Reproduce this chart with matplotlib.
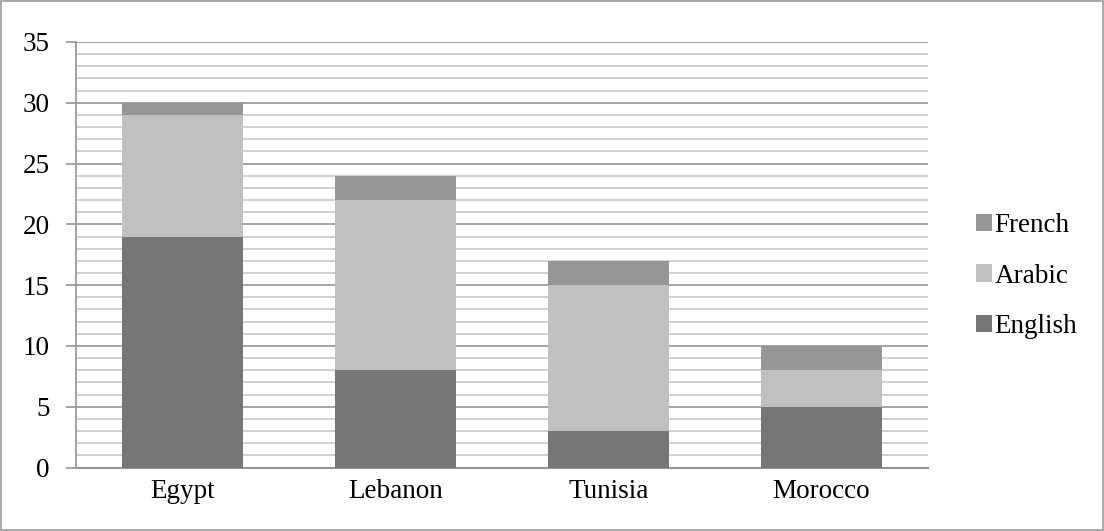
import numpy as np
import matplotlib.pyplot as plt
from matplotlib.ticker import MultipleLocator
from matplotlib.patches import Rectangle

countries = ["Egypt", "Lebanon", "Tunisia", "Morocco"]
english = [19, 8, 3, 5]
arabic = [10, 14, 12, 3]
french = [1, 2, 2, 2]

COL_EN = "#767676"
COL_AR = "#c0c0c0"
COL_FR = "#969696"

plt.rcParams['font.family'] = ['Liberation Serif', 'DejaVu Serif']

fig = plt.figure(figsize=(11.04, 5.31), dpi=100)
ax = fig.add_axes([76 / 1104, 1 - 467.5 / 531, 852 / 1104, 425.5 / 531])

x = np.arange(len(countries))
w = 0.57
en = np.array(english)
ar = np.array(arabic)
fr = np.array(french)
b_en = ax.bar(x, en, w, color=COL_EN, label="English", zorder=3)
b_ar = ax.bar(x, ar, w, bottom=en, color=COL_AR, label="Arabic", zorder=3)
b_fr = ax.bar(x, fr, w, bottom=en + ar, color=COL_FR, label="French", zorder=3)

ax.set_xlim(-0.5, len(countries) - 0.5)
ax.set_ylim(0, 35)
ax.yaxis.set_major_locator(MultipleLocator(5))
ax.yaxis.set_minor_locator(MultipleLocator(1))
ax.grid(which='major', axis='y', color='#959595', linewidth=1.2, zorder=1)
ax.grid(which='minor', axis='y', color='#c8c8c8', linewidth=1.2, zorder=1)

ax.set_xticks(x)
ax.set_xticklabels(countries)
ax.tick_params(axis='x', length=0, pad=8, labelsize=19.5)
ax.tick_params(axis='y', which='major', length=7, color='#959595', width=1.2,
               pad=12, labelsize=19.5)
ax.tick_params(axis='y', which='minor', length=0)

for side in ('top', 'right'):
    ax.spines[side].set_visible(False)
ax.spines['left'].set_color('#959595')
ax.spines['left'].set_linewidth(1.2)
ax.spines['bottom'].set_color('#959595')
ax.spines['bottom'].set_linewidth(1.5)

leg = ax.legend(handles=[b_fr, b_ar, b_en], loc='center left',
                bbox_to_anchor=(1.04, 0.45), frameon=False, fontsize=19.5,
                handlelength=0.6, handleheight=0.6, handletextpad=0.1,
                labelspacing=0.95, borderpad=0)

# outer border of the chart area
fig.patches.append(Rectangle((1 / 1104, 1 / 531), 1102 / 1104, 1 - 2 / 531,
                             transform=fig.transFigure, fill=False,
                             edgecolor='#9a9a9a', linewidth=1.2))

fig.savefig("out.png", dpi=100)
